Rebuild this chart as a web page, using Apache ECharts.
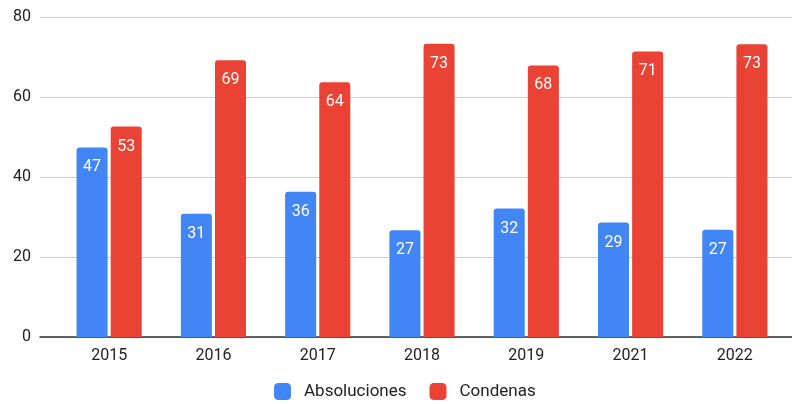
<!DOCTYPE html>
<html>
<head>
<meta charset="utf-8">
<script src="https://cdn.jsdelivr.net/npm/echarts@6/dist/echarts.min.js"></script>
<style>
  html, body { margin: 0; padding: 0; background: #fff; }
  #chart { width: 792px; height: 404px; }
</style>
</head>
<body>
<div id="chart"></div>
<script>
  // datos (porcentajes)
  let years = ['2015', '2016', '2017', '2018', '2019', '2021', '2022'];
  let absoluciones = [47.4, 30.8, 36.3, 26.7, 32.1, 28.6, 26.8];
  let condenas = [52.6, 69.2, 63.7, 73.3, 67.9, 71.4, 73.2];
  let yTicks = [0, 20, 40, 60, 80];

  let chart = echarts.init(document.getElementById('chart'));
  let font = 'Roboto, Arial, sans-serif';

  let barLabel = {
    show: true,
    position: 'insideTop',
    distance: 12,
    color: '#fff',
    fontSize: 16,
    fontFamily: font,
    formatter: p => Math.round(p.value)
  };

  let option = {
    animation: false,
    textStyle: { fontFamily: font },
    legend: {
      top: 378,
      left: 269,
      itemWidth: 17,
      itemHeight: 17,
      itemGap: 23,
      icon: 'roundRect',
      textStyle: { fontSize: 17, color: '#222', padding: [0, 0, 0, 8] },
      data: ['Absoluciones', 'Condenas']
    },
    grid: [
      { left: 40, right: 0, top: 17, bottom: 67 },
      { left: 57, right: 5, top: 17, bottom: 67 }
    ],
    xAxis: [
      {
        type: 'category',
        gridIndex: 0,
        data: [''],
        axisLine: { lineStyle: { color: '#333', width: 1.5 } },
        axisTick: { show: false },
        axisLabel: { show: false }
      },
      {
        type: 'category',
        gridIndex: 1,
        data: years,
        axisLine: { show: false },
        axisTick: { show: false },
        axisLabel: { color: '#222', fontSize: 16, margin: 11 }
      }
    ],
    yAxis: [
      {
        type: 'value',
        gridIndex: 0,
        min: yTicks[0],
        max: yTicks[yTicks.length - 1],
        interval: 20,
        axisLine: { show: false },
        axisTick: { show: false },
        axisLabel: { color: '#222', fontSize: 16, margin: 9 },
        splitLine: { lineStyle: { color: '#ccc', width: 1 } }
      },
      {
        type: 'value',
        gridIndex: 1,
        min: yTicks[0],
        max: yTicks[yTicks.length - 1],
        interval: 20,
        show: false,
        splitLine: { show: false }
      }
    ],
    series: [
      {
        name: 'Absoluciones',
        type: 'bar',
        xAxisIndex: 1,
        yAxisIndex: 1,
        data: absoluciones,
        barGap: '10%',
        barCategoryGap: '37.5%',
        itemStyle: { color: '#4285F4', borderRadius: [3, 3, 0, 0] },
        label: barLabel
      },
      {
        name: 'Condenas',
        type: 'bar',
        xAxisIndex: 1,
        yAxisIndex: 1,
        data: condenas,
        barGap: '10%',
        barCategoryGap: '37.5%',
        itemStyle: { color: '#EA4335', borderRadius: [3, 3, 0, 0] },
        label: barLabel
      }
    ]
  };

  chart.setOption(option);
</script>
</body>
</html>
